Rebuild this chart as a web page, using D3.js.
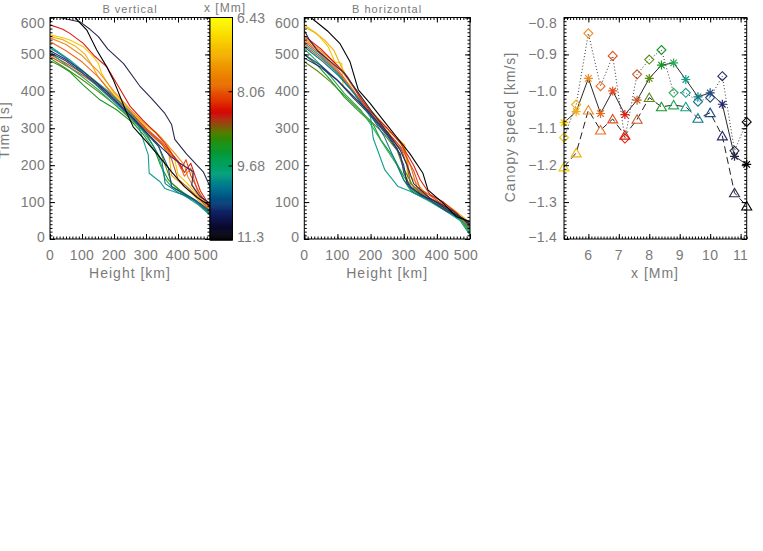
<!DOCTYPE html>
<html><head><meta charset="utf-8">
<script src="https://cdn.jsdelivr.net/npm/d3@7"></script>
<style>
body{margin:0;background:#fff}
svg{display:block}
text{font-family:"Liberation Sans",Arial,sans-serif;fill:#7a7a7a;letter-spacing:1px}
text.tl{letter-spacing:0.3px}
</style>
</head><body>
<svg id="c" width="763" height="551"></svg>
<script>
// ---------------- DATA ----------------
const lineColors = ["#f4c800","#f5ac10","#f08c20","#ea6c20","#e44a1c","#dc1e10","#c45a28","#5a8c10","#189628","#2aaa5a","#12a08c","#0e7a8c","#204c82","#262a6c","#2a2a4a","#000000"];

// B vertical: [height km, time s]
const vertLines = [
 [[0,553],[40,545],[62,539],[104,521],[135,494],[151,476],[161,449],[200,395],[250,350],[300,305],[340,282],[370,252],[390,215],[400,175],[430,150],[470,110],[500,78]],
 [[0,548],[40,540],[80,522],[110,500],[130,472],[150,440],[200,390],[250,345],[300,300],[350,258],[370,240],[380,172],[410,150],[450,118],[500,72]],
 [[0,545],[50,527],[100,497],[150,455],[200,400],[250,352],[300,310],[330,290],[360,262],[390,232],[420,200],[430,170],[460,122],[500,80]],
 [[0,535],[50,510],[100,480],[150,440],[200,386],[250,340],[300,296],[350,256],[380,226],[400,212],[420,170],[440,192],[460,132],[500,85]],
 [[0,500],[50,476],[100,450],[150,420],[200,385],[250,345],[300,300],[350,262],[390,222],[410,190],[425,215],[440,172],[470,120],[500,82]],
 [[0,580],[40,568],[62,557],[104,530],[140,495],[177,467],[214,413],[250,360],[290,322],[330,288],[360,258],[385,225],[405,205],[420,180],[440,205],[470,130],[500,88]],
 [[0,495],[50,470],[100,445],[150,415],[200,376],[250,336],[300,296],[350,256],[380,216],[400,162],[430,140],[470,106],[500,75]],
 [[0,490],[50,462],[100,432],[150,400],[200,366],[250,326],[300,286],[340,250],[360,200],[380,152],[420,122],[470,95],[500,70]],
 [[0,483],[30,470],[62,453],[104,417],[156,377],[208,350],[260,314],[290,285],[310,260],[330,235],[345,200],[370,160],[400,135],[450,108],[500,68]],
 [[0,505],[50,472],[100,440],[150,405],[200,366],[250,330],[290,292],[320,256],[340,222],[360,162],[380,142],[420,120],[460,100],[500,65]],
 [[0,522],[62,485],[125,440],[177,404],[230,360],[271,322],[281,295],[307,228],[310,178],[344,155],[359,137],[417,119],[460,95],[500,65]],
 [[0,518],[50,490],[100,452],[150,412],[200,372],[250,332],[300,286],[330,242],[350,210],[360,150],[400,126],[450,105],[500,70]],
 [[0,505],[50,482],[100,450],[150,416],[200,376],[250,335],[300,290],[340,250],[370,192],[380,142],[420,122],[460,102],[500,75]],
 [[0,510],[50,486],[100,456],[150,420],[200,380],[250,336],[300,290],[350,246],[380,222],[406,205],[448,182],[443,146],[469,115],[500,97]],
 [[0,618],[30,600],[94,588],[125,568],[151,548],[180,515],[230,475],[280,415],[320,378],[359,340],[380,310],[390,270],[427,230],[479,182],[500,142]],
 [[60,625],[78,600],[115,566],[146,512],[177,467],[198,431],[219,386],[240,341],[260,304],[300,265],[340,225],[380,182],[420,142],[460,112],[500,90]]
];

// B horizontal: [height km, time s]
const horizLines = [
 [[0,580],[37,557],[72,521],[92,480],[113,476],[117,413],[150,380],[200,335],[250,292],[263,286],[303,255],[308,223],[313,142],[350,120],[400,100],[450,75],[500,42]],
 [[0,575],[30,560],[60,540],[90,510],[110,470],[140,420],[200,350],[250,300],[300,255],[310,210],[320,170],[360,130],[400,110],[450,80],[500,45]],
 [[0,545],[50,510],[100,470],[150,410],[200,345],[250,300],[290,262],[310,222],[320,150],[360,120],[400,100],[450,70],[500,40]],
 [[0,540],[50,505],[100,460],[150,400],[200,340],[250,290],[300,240],[320,200],[340,140],[380,110],[420,95],[460,70],[500,30]],
 [[0,535],[50,500],[100,455],[150,395],[200,335],[250,285],[300,235],[330,185],[350,135],[400,105],[450,70],[500,25]],
 [[0,550],[50,515],[100,470],[130,440],[170,380],[200,345],[250,300],[290,260],[310,230],[330,200],[350,160],[380,120],[420,100],[460,70],[500,20]],
 [[0,525],[50,490],[100,450],[150,395],[200,340],[250,290],[290,250],[310,200],[320,150],[370,115],[420,90],[470,60],[500,30]],
 [[0,480],[40,455],[80,425],[120,390],[160,355],[200,320],[240,285],[280,240],[300,190],[330,140],[370,110],[420,85],[470,55],[500,25]],
 [[0,500],[40,470],[80,430],[120,385],[160,350],[208,310],[230,270],[270,220],[300,170],[330,130],[373,106],[420,80],[470,55],[500,15]],
 [[0,515],[40,480],[80,440],[120,395],[170,350],[208,300],[243,250],[280,200],[300,160],[323,128],[373,104],[420,80],[470,55],[500,20]],
 [[0,530],[50,495],[100,450],[150,395],[200,330],[208,273],[243,187],[283,142],[323,128],[373,106],[420,80],[470,50],[500,10]],
 [[0,520],[50,485],[100,445],[150,395],[200,335],[240,280],[270,220],[300,160],[330,125],[380,105],[430,75],[480,55],[500,30]],
 [[0,500],[50,470],[100,430],[150,380],[200,335],[250,280],[290,230],[300,180],[320,140],[380,105],[430,75],[480,55],[500,35]],
 [[0,490],[50,465],[100,430],[150,385],[200,340],[250,285],[280,245],[300,200],[310,150],[350,120],[400,100],[450,75],[500,40]],
 [[0,565],[15,540],[40,510],[80,480],[120,450],[160,400],[200,350],[250,290],[290,240],[310,200],[330,150],[380,110],[430,80],[480,55],[500,40]],
 [[0,615],[17,602],[72,562],[107,530],[138,480],[163,404],[198,368],[238,322],[278,277],[318,232],[358,178],[373,133],[419,97],[459,60],[500,47]]
];

const xMm = [5.2,5.6,6.0,6.4,6.8,7.2,7.6,8.0,8.4,8.8,9.2,9.6,10.0,10.4,10.8,11.2];
const diamondSpeed  = [-1.125,-1.036,-0.843,-0.986,-0.904,-1.128,-0.954,-0.914,-0.888,-1.004,-1.004,-1.028,-1.017,-0.959,-1.161,-1.083];
const asteriskSpeed = [-1.085,-1.055,-0.965,-1.060,-0.999,-1.063,-1.024,-0.965,-0.929,-0.923,-0.968,-1.015,-1.004,-1.035,-1.176,-1.198];
const triangleSpeed = [-1.205,-1.167,-1.051,-1.105,-1.075,-1.119,-1.076,-1.017,-1.042,-1.037,-1.042,-1.073,-1.058,-1.121,-1.275,-1.311];

const heightTicks = [0,100,200,300,400,500];
const timeTicks = [0,100,200,300,400,500,600];
const mmTicks = [6,7,8,9,10,11];
const speedTicks = [-1.4,-1.3,-1.2,-1.1,-1.0,-0.9,-0.8];
const colorbarLabels = ["6.43","8.06","9.68","11.3"];
const colorbarValues = [6.43,8.055,9.68,11.305];
const colorbarColors = ["#ffff00","#f8d200","#f0a000","#e87000","#e03000","#d20000","#a04010","#508000","#109010","#00a050","#00a078","#007890","#004a80","#101e60","#0a0a30","#000000"];
const colorbarFractions = [0,0.1,0.2,0.3,0.38,0.43,0.47,0.52,0.57,0.64,0.70,0.76,0.82,0.88,0.94,1];

// ---------------- DRAW ----------------
const svg = d3.select("#c");
svg.append("rect").attr("width",763).attr("height",551).attr("fill","#fff");

const TOP = 17.5, BOT = 239;

function ticksAxes(g, x, y, xMajor, xMinor, yMajor, yMinor){
  const [x0,x1] = x.range(); const [y0,y1] = y.range();
  const mk = (axis, tv, size, tr) => {
    const a = g.append("g").attr("transform",tr).call(axis.tickValues(tv).tickSize(-size).tickFormat(""));
    a.select(".domain").remove();
    a.selectAll("line").attr("stroke","#000").attr("stroke-width",1);
  };
  mk(d3.axisBottom(x), xMajor, 5, `translate(0,${y0})`);
  mk(d3.axisBottom(x), xMinor, 2.5, `translate(0,${y0})`);
  mk(d3.axisTop(x), xMajor, 5, `translate(0,${y1})`);
  mk(d3.axisTop(x), xMinor, 2.5, `translate(0,${y1})`);
  mk(d3.axisLeft(y), yMajor, 5, `translate(${x0},0)`);
  mk(d3.axisLeft(y), yMinor, 2.5, `translate(${x0},0)`);
  mk(d3.axisRight(y), yMajor, 5, `translate(${x1},0)`);
  mk(d3.axisRight(y), yMinor, 2.5, `translate(${x1},0)`);
  g.append("rect").attr("x",x0).attr("y",y1).attr("width",x1-x0).attr("height",y0-y1)
    .attr("fill","none").attr("stroke","#000").attr("stroke-width",1);
}

function xLabels(g, x, vals, fmt, yBase, lastShift){
  vals.forEach((v,i)=>{
    g.append("text").attr("class","tl").attr("x", x(v) + (i===vals.length-1 ? lastShift : 0)).attr("y", yBase)
     .attr("text-anchor","middle").attr("font-size",14).text(fmt(v));
  });
}
function yLabels(g, y, vals, fmt, xEnd){
  vals.forEach((v,i)=>{
    let dy = 0;
    if(i===vals.length-1) dy = 5.5;
    if(i===0) dy = -2.5;
    g.append("text").attr("class","tl").attr("x", xEnd).attr("y", y(v)+dy+5)
     .attr("text-anchor","end").attr("font-size",14).text(fmt(v));
  });
}

const range = (a,b,s) => d3.range(Math.round(a/s), Math.round(b/s)+1).map(k=>+(k*s).toFixed(4));

function profilePanel(id, x0, x1, lines, title){
  const g = svg.append("g");
  const x = d3.scaleLinear().domain([0,500]).range([x0,x1]);
  const y = d3.scaleLinear().domain([0,600]).range([BOT,TOP]);
  svg.append("clipPath").attr("id",id).append("rect")
     .attr("x",x0).attr("y",TOP).attr("width",x1-x0).attr("height",BOT-TOP);
  const line = d3.line().x(d=>x(d[0])).y(d=>y(d[1]));
  const lg = g.append("g").attr("clip-path",`url(#${id})`);
  lines.forEach((pts,i)=>{
    lg.append("path").attr("d",line(pts)).attr("fill","none")
      .attr("stroke",lineColors[i]).attr("stroke-width",1.1).attr("stroke-linejoin","round");
  });
  ticksAxes(g, x, y, heightTicks, range(0,500,10), timeTicks, range(0,600,10));
  xLabels(g, x, heightTicks, d3.format("d"), 260, -4);
  yLabels(g, y, timeTicks, d3.format("d"), x0-5);
  g.append("text").attr("x",(x0+x1)/2).attr("y",278).attr("text-anchor","middle")
   .attr("font-size",14).text("Height [km]");
  g.append("text").attr("x",(x0+x1)/2).attr("y",13).attr("text-anchor","middle")
   .attr("font-size",11).attr("letter-spacing","0.8px").text(title);
  return {x,y};
}

profilePanel("clipV", 50, 210, vertLines, "B vertical");
profilePanel("clipH", 304.3, 470, horizLines, "B horizontal");

// Time axis title (partly cut at the left edge, as in the original)
svg.append("text").attr("transform","translate(9,130) rotate(-90)")
   .attr("text-anchor","middle").attr("font-size",14).text("Time [s]");

// ---------------- COLORBAR ----------------
const cb = svg.append("g");
const cbX0 = 210, cbX1 = 232.5, cbTop = 17.5, cbBot = 240;
const cy = d3.scaleLinear().domain([6.43,11.3]).range([cbTop,cbBot]);
const cmap = d3.scaleLinear()
  .domain(colorbarFractions.map(f=>6.43+f*(11.3-6.43)))
  .range(colorbarColors).interpolate(d3.interpolateRgb);
const nSteps = 230;
d3.range(nSteps).forEach(k=>{
  const v = 6.43 + (k+0.5)/nSteps*(11.3-6.43);
  const ya = cy(6.43 + k/nSteps*(11.3-6.43));
  const yb = cy(6.43 + (k+1)/nSteps*(11.3-6.43));
  cb.append("rect").attr("x",cbX0).attr("y",ya).attr("width",cbX1-cbX0).attr("height",yb-ya+0.6)
    .attr("fill",cmap(v));
});
cb.append("rect").attr("x",cbX0).attr("y",cbTop).attr("width",cbX1-cbX0).attr("height",cbBot-cbTop)
  .attr("fill","none").attr("stroke","#000").attr("stroke-width",1);
colorbarValues.forEach((v,i)=>{
  if(i>0 && i<colorbarValues.length-1){
    cb.append("line").attr("x1",cbX1-4).attr("x2",cbX1).attr("y1",cy(v)).attr("y2",cy(v)).attr("stroke","#000");
  }
  let dy = 5; if(i===0) dy = 5; if(i===colorbarValues.length-1) dy = 1.5;
  cb.append("text").attr("class","tl").attr("x",237).attr("y",cy(v)+dy).attr("font-size",14).text(colorbarLabels[i]);
});
cb.append("text").attr("x",225).attr("y",11.5).attr("text-anchor","middle").attr("font-size",12).text("x [Mm]");

// ---------------- SPEED PANEL ----------------
const sg = svg.append("g");
const sx = d3.scaleLinear().domain([5.2,11.2]).range([564,746.7]);
const sy = d3.scaleLinear().domain([-1.4,-0.8]).range([BOT,TOP]);
const sLine = vals => d3.line().x((d,i)=>sx(xMm[i])).y(d=>sy(d))(vals);

sg.append("path").attr("d",sLine(diamondSpeed)).attr("fill","none")
  .attr("stroke","#333").attr("stroke-width",1).attr("stroke-dasharray","1,2.2");
sg.append("path").attr("d",sLine(triangleSpeed)).attr("fill","none")
  .attr("stroke","#222").attr("stroke-width",1).attr("stroke-dasharray","7,4");
sg.append("path").attr("d",sLine(asteriskSpeed)).attr("fill","none")
  .attr("stroke","#111").attr("stroke-width",0.9);

const r = 4.5;
const diamondPath = `M0,${-r}L${r},0L0,${r}L${-r},0Z`;
const trianglePath = `M0,-4.6L5,3.9L-5,3.9Z`;
const d2 = r*0.72;
const asteriskPath = `M${-r},0L${r},0M0,${-r}L0,${r}M${-d2},${-d2}L${d2},${d2}M${-d2},${d2}L${d2},${-d2}`;

xMm.forEach((xv,i)=>{
  const c = lineColors[i];
  sg.append("path").attr("d",diamondPath).attr("transform",`translate(${sx(xv)},${sy(diamondSpeed[i])})`)
    .attr("fill","none").attr("stroke",c).attr("stroke-width",1.1);
  sg.append("path").attr("d",trianglePath).attr("transform",`translate(${sx(xv)},${sy(triangleSpeed[i])})`)
    .attr("fill","none").attr("stroke",c).attr("stroke-width",1.1);
  sg.append("path").attr("d",asteriskPath).attr("transform",`translate(${sx(xv)},${sy(asteriskSpeed[i])})`)
    .attr("fill","none").attr("stroke",c).attr("stroke-width",1.2);
});

ticksAxes(sg, sx, sy, mmTicks, range(5.2,11.2,0.1), speedTicks, range(-1.4,-0.8,0.01));
xLabels(sg, sx, mmTicks, d3.format("d"), 260, 0);
yLabels(sg, sy, speedTicks, d3.format(".1f"), 557);
sg.append("text").attr("x",655).attr("y",278).attr("text-anchor","middle").attr("font-size",14).text("x [Mm]");
sg.append("text").attr("transform","translate(515,127) rotate(-90)").attr("text-anchor","middle")
  .attr("font-size",14).text("Canopy speed [km/s]");
</script>
</body></html>
